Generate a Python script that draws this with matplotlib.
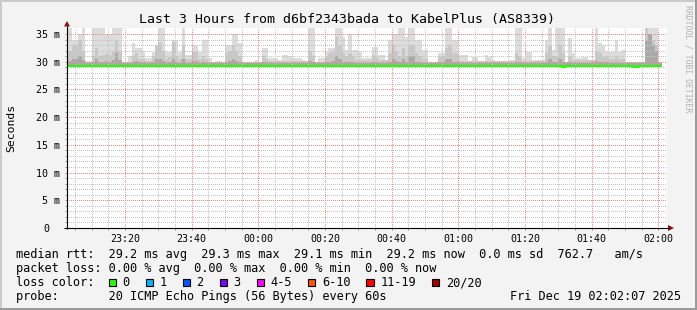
# SmokePing style latency graph (rrdtool look) redrawn with matplotlib
import matplotlib
matplotlib.use("Agg")
import matplotlib.pyplot as plt
from matplotlib.patches import Rectangle, Polygon
from matplotlib.transforms import ScaledTranslation
import numpy as np

W, H, DPI = 697, 310, 100
MONO = "DejaVu Sans Mono"

title = "Last 3 Hours from d6bf2343bada to KabelPlus (AS8339)"
ylabel = "Seconds"
watermark = "RRDTOOL / TOBI OETIKER"

# time axis, minutes after 23:00
x_start, x_end = 2.6, 182.6
x_ticks = [20, 40, 60, 80, 100, 120, 140, 160, 180]
x_tick_labels = ["23:20", "23:40", "00:00", "00:20", "00:40",
                 "01:00", "01:20", "01:40", "02:00"]
y_max = 36.08
y_ticks = [0, 5, 10, 15, 20, 25, 30, 35]
y_tick_labels = ["0", "5 m", "10 m", "15 m", "20 m", "25 m", "30 m", "35 m"]

# one value per 60 s step, in ms, first step starts 23:02
first_step = 2
smoke_floor = 29.1
smoke_top = [
    36.0, 36.0, 33.9, 34.0, 35.0, 36.0, 30.2, 30.2, 36.0, 36.0,
    36.0, 36.0, 35.0, 35.0, 36.0, 36.0, 36.0, 30.0, 30.0, 31.0,
    33.3, 32.4, 32.4, 32.0, 30.6, 30.6, 31.8, 31.8, 36.0, 36.0,
    31.8, 31.8, 34.0, 34.0, 31.8, 36.0, 31.2, 31.2, 33.0, 33.0,
    31.8, 33.9, 33.9, 30.6, 30.0, 30.2, 30.2, 30.0, 33.0, 33.0,
    35.0, 35.0, 33.3, 30.0, 30.0, 30.0, 30.0, 30.3, 30.0, 32.4,
    32.4, 30.6, 30.6, 30.6, 30.3, 31.2, 31.2, 31.0, 30.6, 30.6,
    30.6, 30.3, 30.0, 36.0, 36.0, 30.0, 30.6, 30.6, 31.8, 32.4,
    32.4, 36.0, 36.0, 34.5, 32.1, 35.0, 32.1, 32.1, 31.8, 30.6,
    30.6, 30.6, 32.7, 32.7, 31.2, 31.2, 30.0, 33.9, 35.0, 35.0,
    36.0, 36.0, 34.5, 36.0, 36.0, 33.9, 33.9, 32.1, 32.1, 30.0,
    30.0, 30.0, 31.5, 31.5, 36.0, 36.0, 33.9, 33.9, 31.2, 31.2,
    31.2, 30.0, 30.9, 30.9, 29.7, 29.7, 31.2, 30.9, 30.3, 30.0,
    30.0, 30.0, 30.0, 30.3, 30.3, 36.0, 36.0, 30.6, 31.8, 31.8,
    30.3, 30.3, 30.3, 30.3, 33.9, 36.0, 32.1, 36.0, 36.0, 36.0,
    30.0, 34.2, 31.5, 30.6, 30.6, 30.9, 30.9, 30.3, 30.3, 36.0,
    33.3, 33.0, 31.8, 31.8, 31.8, 33.9, 31.8, 32.1, 30.0, 30.0,
    29.5, 29.5, 30.0, 30.0, 36.0, 36.0, 36.0, 36.0, 30.0,
]
smoke_mid = [
    31.0, 32.0, 33.0, 33.0, 34.0, 32.0, 30.0, 30.0, 31.0, 32.4,
    31.0, 31.2, 31.5, 31.2, 32.0, 34.0, 32.0, 30.0, 30.0, 30.0,
    31.0, 31.5, 30.5, 30.5, 30.2, 30.2, 31.0, 33.0, 33.3, 32.0,
    30.5, 30.8, 33.5, 31.0, 30.5, 33.0, 30.5, 30.5, 31.8, 31.8,
    30.5, 31.0, 30.5, 30.0, 30.0, 30.0, 30.0, 30.0, 31.5, 32.0,
    33.0, 32.0, 31.0, 30.0, 30.0, 30.0, 30.0, 30.0, 30.0, 31.0,
    30.5, 30.2, 30.2, 30.2, 30.2, 30.2, 30.2, 30.2, 30.2, 30.2,
    30.2, 30.2, 30.2, 32.0, 31.0, 30.0, 30.0, 30.0, 31.0, 31.5,
    31.8, 34.5, 33.0, 31.5, 31.0, 31.5, 31.0, 30.3, 30.3, 30.3,
    30.3, 30.3, 31.2, 30.8, 30.3, 30.3, 30.3, 31.5, 33.0, 32.0,
    31.0, 32.5, 31.0, 33.0, 33.0, 31.5, 31.0, 30.5, 30.5, 30.0,
    30.0, 30.0, 30.8, 31.0, 32.5, 33.0, 31.5, 31.5, 30.2, 30.2,
    30.2, 30.2, 30.2, 30.2, 30.2, 30.2, 30.2, 30.2, 30.2, 30.2,
    30.2, 30.2, 30.2, 30.2, 30.2, 31.5, 31.0, 30.2, 30.2, 30.2,
    30.2, 30.2, 30.2, 30.2, 31.5, 32.8, 31.0, 31.0, 33.0, 31.5,
    30.0, 31.0, 30.3, 30.3, 30.3, 30.3, 30.3, 30.3, 30.3, 32.0,
    31.5, 30.8, 31.0, 30.5, 30.5, 31.0, 30.5, 30.5, 30.0, 30.0,
    30.0, 30.0, 30.0, 30.0, 36.0, 35.0, 34.0, 33.0, 30.0,
]
smoke_low = [
    29.9, 30.2, 30.5, 30.5, 31.0, 30.3, 29.8, 29.8, 29.9, 30.5,
    29.9, 30.0, 30.2, 30.0, 30.3, 31.5, 30.3, 29.8, 29.8, 29.8,
    29.9, 30.2, 29.9, 29.9, 29.8, 29.8, 29.9, 30.5, 30.5, 30.2,
    29.8, 29.9, 30.5, 29.9, 29.8, 30.5, 29.8, 29.8, 30.2, 30.2,
    29.8, 29.9, 29.8, 29.8, 29.8, 29.8, 29.8, 29.8, 29.9, 30.2,
    30.5, 30.2, 29.9, 29.8, 29.8, 29.8, 29.8, 29.8, 29.8, 29.9,
    29.8, 29.8, 29.8, 29.8, 29.8, 29.8, 29.8, 29.8, 29.8, 29.8,
    29.8, 29.8, 29.8, 30.2, 29.9, 29.8, 29.8, 29.8, 29.9, 30.0,
    30.2, 31.0, 30.5, 30.0, 29.9, 30.0, 29.9, 29.8, 29.8, 29.8,
    29.8, 29.8, 30.0, 29.9, 29.8, 29.8, 29.8, 30.0, 30.5, 30.2,
    29.9, 30.5, 29.9, 31.0, 31.0, 30.0, 29.9, 29.8, 29.8, 29.8,
    29.8, 29.8, 29.9, 29.9, 30.5, 30.5, 30.0, 30.0, 29.8, 29.8,
    29.8, 29.8, 29.8, 29.8, 29.8, 29.8, 29.8, 29.8, 29.8, 29.8,
    29.8, 29.8, 29.8, 29.8, 29.8, 30.0, 29.9, 29.8, 29.8, 29.8,
    29.8, 29.8, 29.8, 29.8, 30.0, 30.5, 29.9, 29.9, 30.5, 30.0,
    29.8, 29.9, 29.8, 29.8, 29.8, 29.8, 29.8, 29.8, 29.8, 30.2,
    30.0, 29.9, 29.9, 29.8, 29.8, 29.9, 29.8, 29.8, 29.8, 29.8,
    29.8, 29.8, 29.8, 29.8, 34.0, 35.0, 33.0, 32.0, 29.8,
]
median_rtt = [
    29.2, 29.2, 29.2, 29.2, 29.2, 29.2, 29.2, 29.2, 29.2, 29.2,
    29.2, 29.2, 29.2, 29.2, 29.2, 29.2, 29.2, 29.2, 29.2, 29.2,
    29.2, 29.2, 29.2, 29.2, 29.2, 29.2, 29.2, 29.2, 29.2, 29.2,
    29.2, 29.2, 29.2, 29.2, 29.2, 29.2, 29.2, 29.2, 29.2, 29.2,
    29.2, 29.2, 29.2, 29.2, 29.2, 29.2, 29.2, 29.2, 29.2, 29.2,
    29.2, 29.2, 29.2, 29.2, 29.2, 29.2, 29.2, 29.2, 29.2, 29.2,
    29.2, 29.2, 29.2, 29.2, 29.2, 29.2, 29.2, 29.2, 29.2, 29.2,
    29.2, 29.2, 29.2, 29.2, 29.2, 29.2, 29.2, 29.2, 29.2, 29.2,
    29.2, 29.2, 29.2, 29.2, 29.2, 29.2, 29.2, 29.2, 29.2, 29.2,
    29.2, 29.2, 29.2, 29.2, 29.2, 29.2, 29.2, 29.2, 29.2, 29.2,
    29.2, 29.2, 29.2, 29.2, 29.2, 29.2, 29.2, 29.2, 29.2, 29.2,
    29.2, 29.2, 29.2, 29.2, 29.2, 29.2, 29.2, 29.2, 29.2, 29.2,
    29.2, 29.2, 29.2, 29.2, 29.2, 29.2, 29.2, 29.2, 29.2, 29.2,
    29.2, 29.2, 29.2, 29.2, 29.2, 29.2, 29.2, 29.2, 29.2, 29.2,
    29.2, 29.2, 29.2, 29.2, 29.2, 29.2, 29.2, 29.2, 29.2, 29.1,
    29.2, 29.2, 29.2, 29.2, 29.2, 29.2, 29.2, 29.2, 29.2, 29.2,
    29.2, 29.2, 29.2, 29.2, 29.2, 29.2, 29.2, 29.2, 29.2, 29.2,
    29.0, 29.0, 29.2, 29.2, 29.2, 29.2, 29.2, 29.2, 29.2,
]

legend_rtt = "median rtt:  29.2 ms avg  29.3 ms max  29.1 ms min  29.2 ms now  0.0 ms sd  762.7   am/s"
legend_loss = "packet loss: 0.00 % avg  0.00 % max  0.00 % min  0.00 % now"
legend_color = "loss color:"
legend_probe = "probe:       20 ICMP Echo Pings (56 Bytes) every 60s"
legend_date = "Fri Dec 19 02:02:07 2025"
loss_labels = ["0", "1", "2", "3", "4-5", "6-10", "11-19", "20/20"]
loss_colors = ["#26ff00", "#00b8ff", "#0059ff", "#7e00ff",
               "#ff00ff", "#ff5500", "#ff0000", "#a10000"]

# rrdtool colours
BACK = "#f3f3f3"
SHADEA = "#cbcbcb"
SHADEB = "#9a9a9a"
ARROW = "#8b1010"

# graph area in image pixels
GX0, GX1 = 67, 667
GY0, GY1 = 28, 228

fig = plt.figure(figsize=(W / DPI, H / DPI), dpi=DPI, facecolor=BACK)
ax = fig.add_axes([GX0 / W, 1 - GY1 / H, (GX1 - GX0) / W, (GY1 - GY0) / H])
ax.set_facecolor("white")
ax.set_xlim(x_start, x_end)
ax.set_ylim(0, y_max)
for s in ax.spines.values():
    s.set_visible(False)

# smoke
edges = np.arange(first_step, first_step + len(smoke_top) + 1)
ax.stairs(smoke_top, edges, baseline=smoke_floor, fill=True, color="#dcdcdc", lw=0, zorder=1)
ax.stairs(smoke_mid, edges, baseline=smoke_floor, fill=True, color="#c8c8c8", lw=0, zorder=1.1)
ax.stairs(smoke_low, edges, baseline=smoke_floor, fill=True, color="#a9a9a9", lw=0, zorder=1.2)
ax.stairs(median_rtt, edges, baseline=None, color="#26ff00", lw=1.5, zorder=3)

# grid, 1px on / 1px off; the half offset keeps the dots on whole pixels
DOTS = (0.5, (1, 1))
ax.set_xticks(x_ticks)
ax.set_xticklabels(x_tick_labels, family=MONO, fontsize=7.2)
ax.set_xticks(np.arange(5, 185, 5), minor=True)
ax.set_yticks(y_ticks)
ax.set_yticklabels(y_tick_labels, family=MONO, fontsize=7.2)
ax.set_yticks(np.arange(1, 36, 1), minor=True)
ax.set_axisbelow(False)
ax.grid(which="minor", color="#c4c4c4", linestyle=DOTS, linewidth=0.72)
ax.grid(which="major", color="#f28c8c", linestyle=DOTS, linewidth=0.72)
ax.tick_params(which="both", direction="out", length=1.5, width=0.72, color="#999999")
ax.tick_params(axis="y", which="major", pad=3.3)
ax.tick_params(axis="x", which="major", pad=2.6)
# the zero label sits left of the unit column
zero = ax.get_yticklabels()[0]
zero.set_transform(zero.get_transform() + ScaledTranslation(-11 / DPI, 0, fig.dpi_scale_trans))

# overlay in pixel units for frame, axes arrows and legend
ov = fig.add_axes([0, 0, 1, 1], zorder=5)
ov.set_xlim(0, W)
ov.set_ylim(H, 0)
ov.axis("off")
ov.patch.set_visible(False)

ov.add_patch(Rectangle((0, 0), W, 2, color=SHADEA, lw=0))
ov.add_patch(Rectangle((0, 0), 2, H, color=SHADEA, lw=0))
ov.add_patch(Rectangle((0, H - 2.5), W, 2.5, color=SHADEB, lw=0))
ov.add_patch(Rectangle((W - 2.5, 0), 2.5, H, color=SHADEB, lw=0))

ov.plot([GX0, GX0], [GY1 + 0.5, GY0 - 2], color="black", lw=0.8, solid_capstyle="butt")
ov.plot([GX0 - 3, GX1 + 2], [GY1, GY1], color="black", lw=0.8, solid_capstyle="butt")
ov.add_patch(Polygon([[GX0 - 3, GY0 - 1.5], [GX0 + 3, GY0 - 1.5], [GX0, GY0 - 7]],
                     closed=True, color=ARROW, lw=0))
ov.add_patch(Polygon([[GX1 + 1, GY1 - 3], [GX1 + 1, GY1 + 3], [GX1 + 7, GY1]],
                     closed=True, color=ARROW, lw=0))

ov.text(347, 19, title, family=MONO, fontsize=9.55, ha="center", va="center")
ov.text(11, 128, ylabel, family=MONO, fontsize=8.2, rotation=90, ha="center", va="center")
ov.text(688, 5, watermark, family=MONO, fontsize=5.9, color="#b0b0b0",
        rotation=270, ha="center", va="top")

LEG = 8.55
CH = 7.15
ov.text(15.5, 258, legend_rtt, family=MONO, fontsize=LEG, va="baseline")
ov.text(15.5, 272, legend_loss, family=MONO, fontsize=LEG, va="baseline")
ov.text(15.5, 286, legend_color, family=MONO, fontsize=LEG, va="baseline")
ov.text(15.5, 300, legend_probe, family=MONO, fontsize=LEG, va="baseline")
ov.text(681, 300, legend_date, family=MONO, fontsize=LEG, va="baseline", ha="right")

bx = 108.5
for lab, col in zip(loss_labels, loss_colors):
    ov.add_patch(Rectangle((bx, 278.5), 7.5, 7.5, facecolor=col, edgecolor="black", lw=0.8))
    ov.text(bx + 14, 286, lab, family=MONO, fontsize=LEG, va="baseline")
    bx += 29.85 + CH * len(lab)

fig.savefig("out.png", dpi=DPI, facecolor=BACK)
